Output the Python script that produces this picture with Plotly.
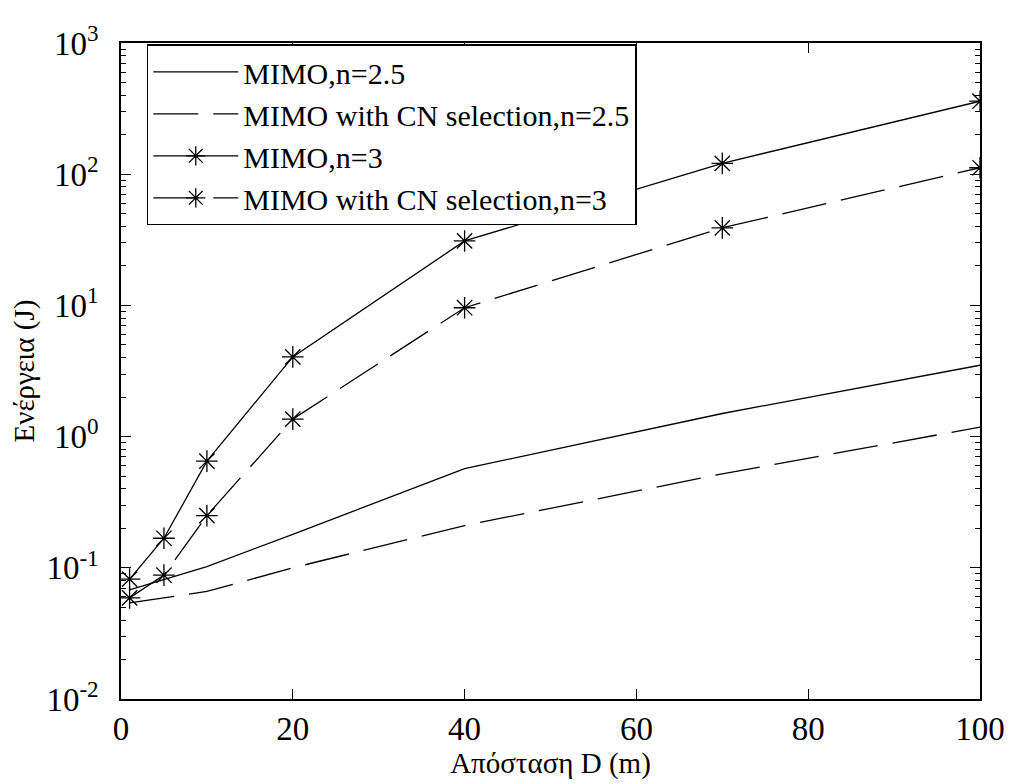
import plotly.graph_objects as go

# Data
distance = [1, 5, 10, 20, 40, 70, 100]
mimo_n25 = [0.068, 0.081, 0.102, 0.18, 0.57, 1.5, 3.5]
cn_n25 = [0.054, 0.059, 0.066, 0.10, 0.21, 0.52, 1.18]
mimo_n3 = [0.082, 0.168, 0.65, 4.05, 31, 121, 360]
cn_n3 = [0.059, 0.088, 0.25, 1.36, 9.6, 39, 112]

names = ["MIMO,n=2.5", "MIMO with CN selection,n=2.5", "MIMO,n=3", "MIMO with CN selection,n=3"]

x_ticks = [0, 20, 40, 60, 80, 100]
y_exps = [-2, -1, 0, 1, 2, 3]

FONT = "Liberation Serif, Times New Roman, serif"
FS = 31
LFS = 30
TFS = 33
DASH = "45px,15px"

fig = go.Figure()
fig.add_trace(go.Scatter(x=distance, y=mimo_n25, mode="lines", name=names[0],
                         line=dict(color="black", width=1.3)))
fig.add_trace(go.Scatter(x=distance, y=cn_n25, mode="lines", name=names[1],
                         line=dict(color="black", width=1.3, dash=DASH)))
fig.add_trace(go.Scatter(x=distance, y=mimo_n3, mode="lines+markers", name=names[2],
                         line=dict(color="black", width=1.3),
                         marker=dict(symbol="asterisk-open", size=18, color="black",
                                     line=dict(color="black", width=1.3))))
fig.add_trace(go.Scatter(x=distance, y=cn_n3, mode="lines+markers", name=names[3],
                         line=dict(color="black", width=1.3, dash=DASH),
                         marker=dict(symbol="asterisk-open", size=18, color="black",
                                     line=dict(color="black", width=1.3))))

minor_vals = [m * 10 ** e for e in range(-2, 3) for m in range(2, 10)]

# page body has an 8px default margin, so the figure is sized/offset to compensate
fig.update_layout(
    width=1009, height=776,
    margin=dict(l=109, r=31, t=24, b=83),
    paper_bgcolor="white", plot_bgcolor="white",
    font=dict(family=FONT, size=FS, color="black"),
    showlegend=True,
    legend=dict(x=0.03, y=0.998, xanchor="left", yanchor="top",
                bordercolor="black", borderwidth=1.5, bgcolor="white",
                font=dict(family=FONT, size=LFS, color="black"),
                itemwidth=85),
    xaxis=dict(range=[0, 100], tickvals=x_ticks, ticktext=[str(v) for v in x_ticks],
               tickfont=dict(family=FONT, size=TFS, color="black"),
               showgrid=False, zeroline=False, showline=True, linecolor="black", linewidth=1.5,
               mirror="allticks", ticks="inside", ticklen=10, tickcolor="black", tickwidth=1,
               title=dict(text="Απόσταση D (m)", font=dict(family=FONT, size=FS - 2), standoff=4)),
    yaxis=dict(type="log", range=[-2, 3],
               tickvals=[10 ** e for e in y_exps],
               ticktext=["10<sup>%d</sup>" % e for e in y_exps],
               tickfont=dict(family=FONT, size=TFS, color="black"),
               ticklabelstandoff=14,
               showgrid=False, zeroline=False, showline=True, linecolor="black", linewidth=1.5,
               mirror="allticks", ticks="inside", ticklen=10, tickcolor="black", tickwidth=1,
               minor=dict(tickvals=minor_vals, ticks="inside", ticklen=5, tickcolor="black",
                          tickwidth=1, showgrid=False),
               title=dict(text="Ενέργεια (J)", font=dict(family=FONT, size=FS - 2), standoff=6)),
)

fig.write_html("out.html")
